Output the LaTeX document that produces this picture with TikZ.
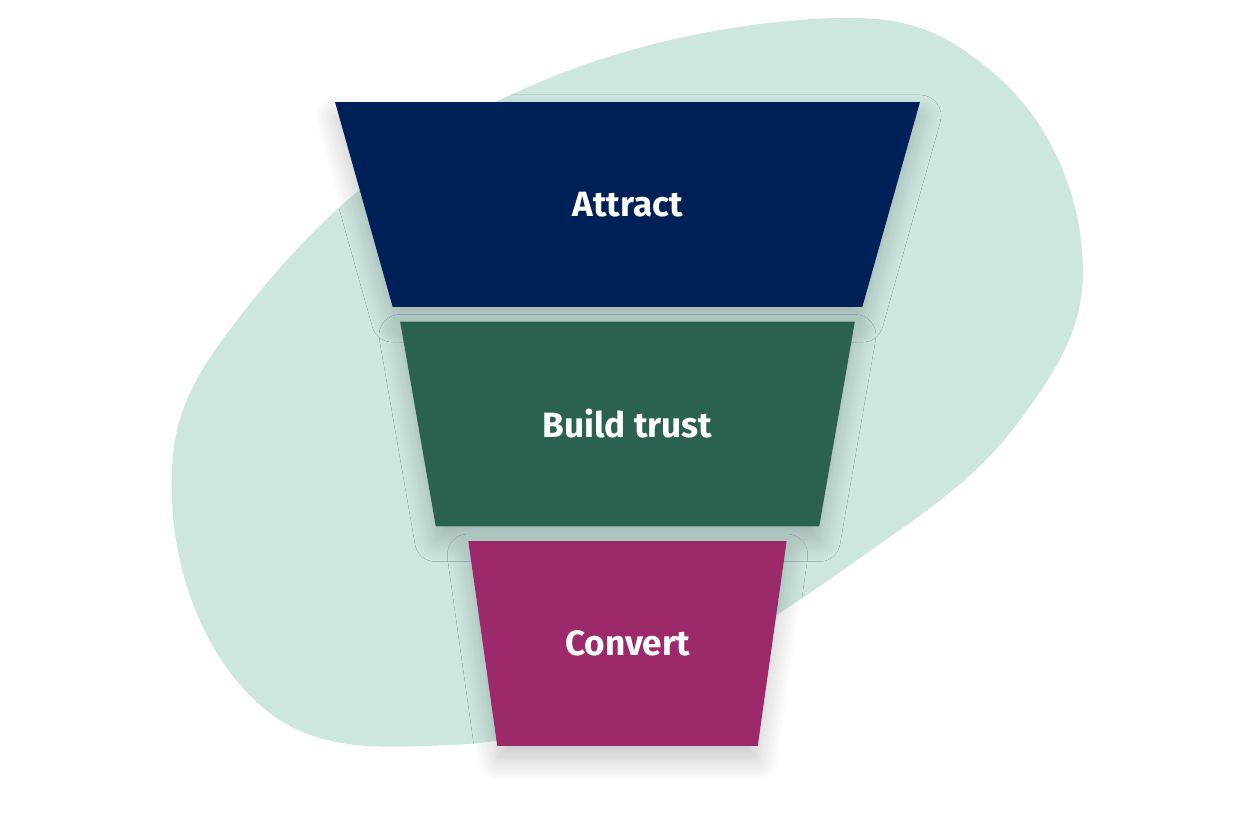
\documentclass[tikz,border=0pt]{standalone}
\usepackage{fontspec}
\setmainfont{Fira Sans}
\usetikzlibrary{shapes.geometric, shadows.blur}
\definecolor{blobGreen}{HTML}{CDE7E0}
\definecolor{stageNavy}{HTML}{002058}
\definecolor{stageGreen}{HTML}{2A6153}
\definecolor{stagePlum}{HTML}{9C296A}
\tikzstyle{fStage} = [trapezium, trapezium stretches=true, shape border rotate=180, trapezium left angle=61.5, trapezium right angle=61.5, minimum height=4.1cm, inner sep=0pt, text=white, font=\fontsize{20}{24}\selectfont\bfseries, blur shadow={shadow xshift=0pt, shadow yshift=-8pt, shadow blur radius=12pt, shadow blur steps=12, shadow opacity=22}]

\begin{document}
\begin{tikzpicture}[x=0.02cm, y=-0.02cm]
    \useasboundingbox (0,0) rectangle (1256,838);
    % background blob
    \fill [blobGreen] plot [smooth cycle, tension=0.7] coordinates {(800,20) (990,70) (1082,250) (1020,420) (850,565) (640,690) (450,745) (260,705) (172,500) (245,310) (480,110)};

    \node (attract) [fStage, fill=stageNavy, minimum width=11.78cm] at (627.5,204.5) {Attract};
    \node (trust) [fStage, fill=stageGreen, minimum width=9.1cm] at (627.5,424) {Build trust};
    \node (convert) [fStage, fill=stagePlum, minimum width=6.38cm] at (627.5,643.5) {Convert};
\end{tikzpicture}
\end{document}
